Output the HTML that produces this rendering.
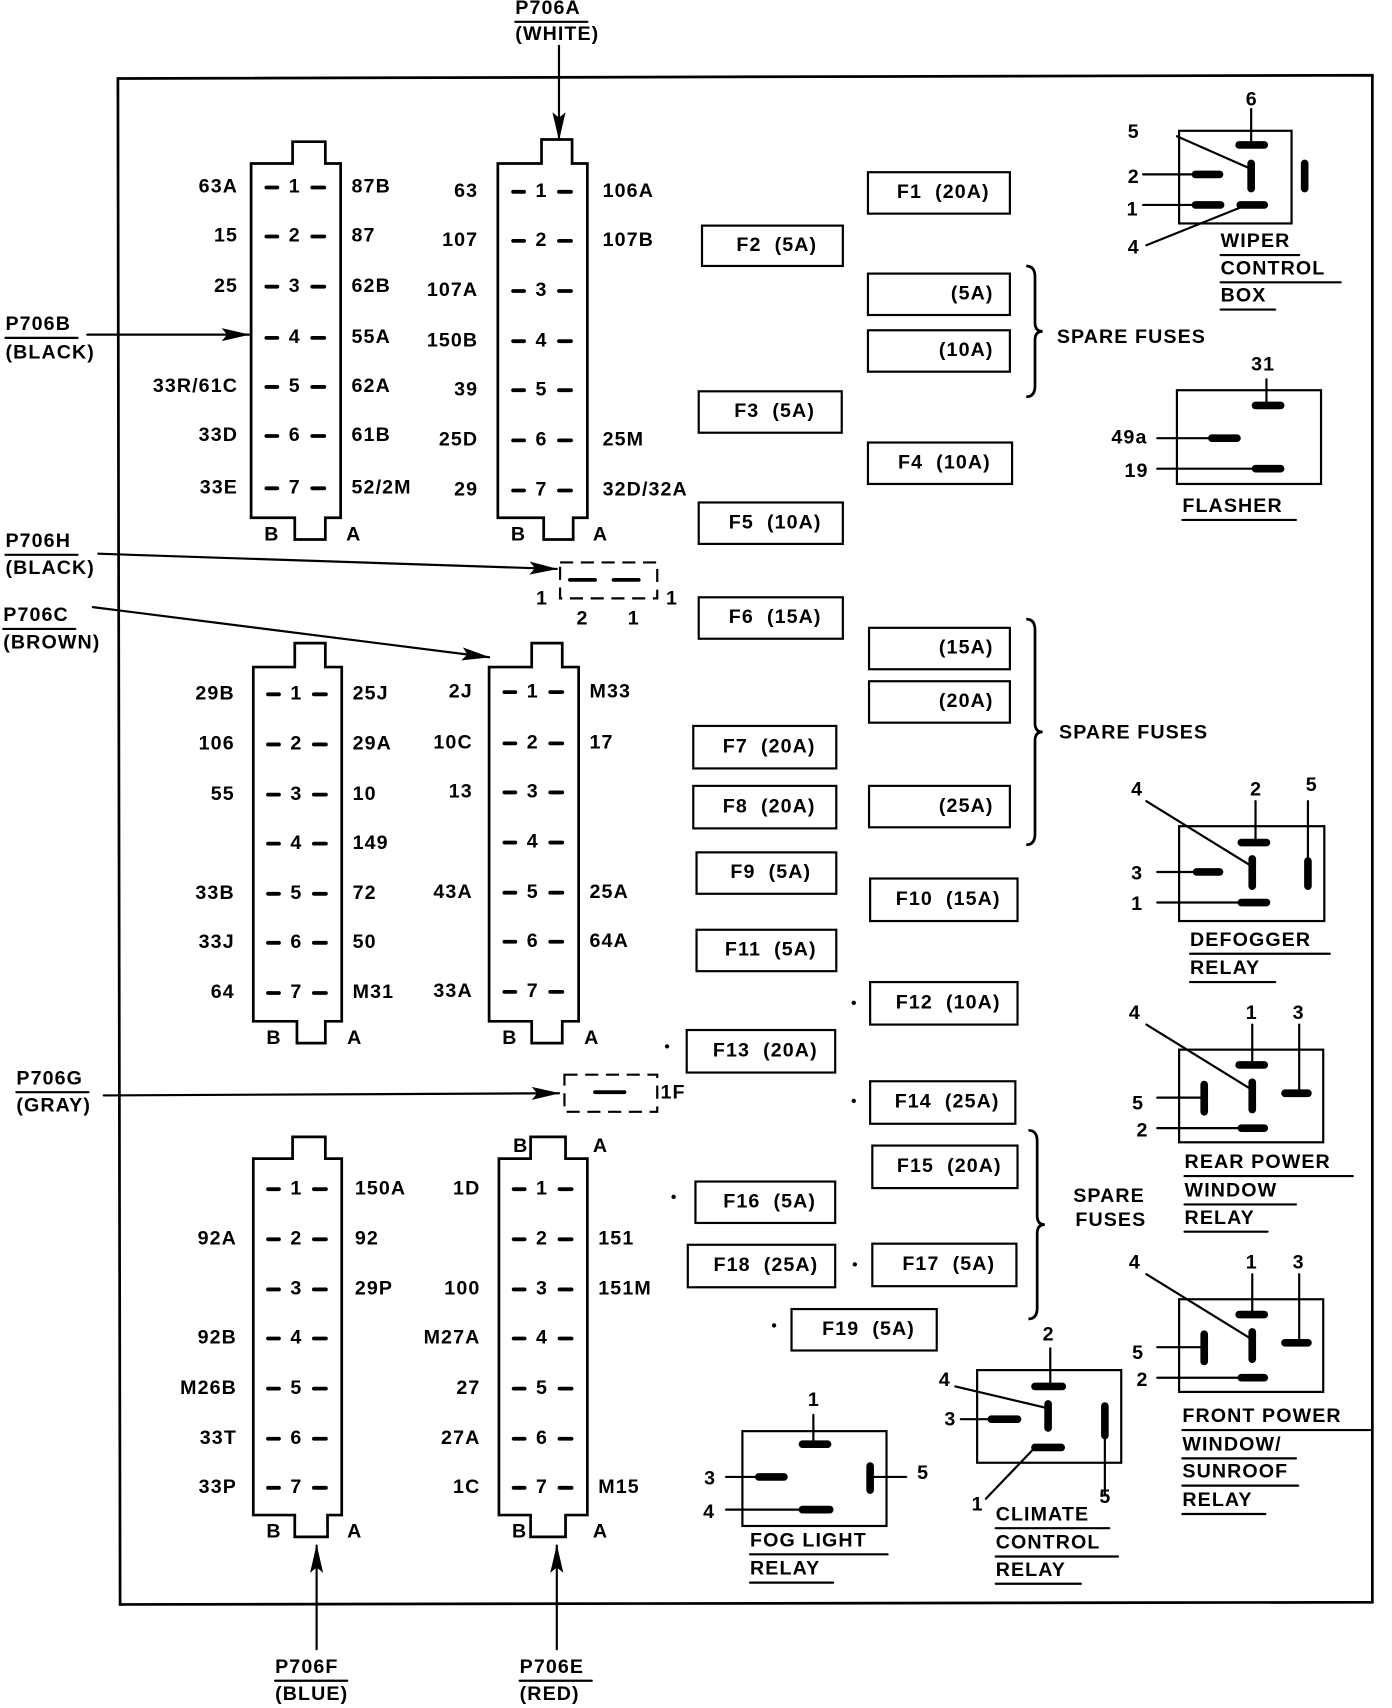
<!DOCTYPE html>
<html><head><meta charset="utf-8"><style>
html,body{margin:0;padding:0;background:#fff;}
svg{display:block;}
text{font-family:"Liberation Sans",Arial,sans-serif;font-weight:bold;font-size:18px;fill:#000;letter-spacing:1px;}
</style></head><body>
<svg id="s" width="1392" height="1708" viewBox="0 0 1275 1567" preserveAspectRatio="none" xmlns="http://www.w3.org/2000/svg">
<defs><marker id="ar" markerWidth="12" markerHeight="10" refX="11" refY="5" orient="auto" markerUnits="userSpaceOnUse" viewBox="0 0 12 10"><path d="M0,1 L12,5 L0,9 L3,5 Z" fill="#000"/></marker>
<marker id="ar2" markerWidth="26" markerHeight="16" refX="25" refY="8" orient="auto" markerUnits="userSpaceOnUse" viewBox="0 0 26 16"><path d="M0,2 L26,8 L0,14 L5,8 Z" fill="#000"/></marker></defs>
<g id="g" stroke="#000" fill="none"></g>
</svg>
<script>
var g=document.getElementById('g');var out='';
function L(x1,y1,x2,y2,w,m){out+='<line x1="'+x1+'" y1="'+y1+'" x2="'+x2+'" y2="'+y2+'" stroke-width="'+(w||2)+'"'+(m?' marker-end="url(#'+m+')"':'')+' stroke-linecap="round"/>';}
function R(x1,y1,x2,y2,w,d){out+='<rect x="'+x1+'" y="'+y1+'" width="'+(x2-x1)+'" height="'+(y2-y1)+'" stroke-width="'+(w||2)+'"'+(d?' stroke-dasharray="12,7"':'')+'/>';}
function T(x,y,s,a,u){out+='<text x="'+x+'" y="'+y+'" dominant-baseline="middle" stroke="none"'+(a?' text-anchor="'+a+'"':'')+(u?' text-decoration="underline"':'')+'>'+s+'</text>';}
function U(x,y,s,w){T(x,y,s);L(x,y+12,x+w,y+12,2);}
function P(d){out+='<path d="'+d+'" stroke-width="2.5"/>';}
function conn(x1,x2,top,bot,tx1,tx2,ttop,bx1,bx2,bbot,rows,left,right,lx,rx,ba){
 P('M'+x1+','+top+' H'+tx1+' V'+ttop+' H'+tx2+' V'+top+' H'+x2+' V'+bot+' H'+bx2+' V'+bbot+' H'+bx1+' V'+bot+' H'+x1+' Z');
 var cx=(x1+x2)/2;
 for(var i=0;i<7;i++){var y=rows[i];L(cx-27,y,cx-17,y,3.5);L(cx+15,y,cx+26,y,3.5);T(cx-1,y,''+(i+1),'middle');
  if(left[i])T(lx,y,left[i],'end');if(right[i])T(rx,y,right[i]);}
 T(x1+12,bbot-4,'B');T(x2+5,bbot-4,'A');
}
P('M108,72 L1257,69 L1257,1470 L110,1472 Z');
conn(230,312,150,475,268,298,130,270,298,495,[172,217,263,310,355,400,448],['63A','15','25','','33R/61C','33D','33E'],['87B','87','62B','55A','62A','61B','52/2M'],218,322);
conn(456,538,150,475,496,524,128,498,525,495,[176,221,267,313,358,404,450],['63','107','107A','150B','39','25D','29'],['106A','107B','','','','25M','32D/32A'],438,552);
conn(232,313,612,937,270,298,590,272,298,957,[637,683,729,774,820,865,911],['29B','106','55','','33B','33J','64'],['25J','29A','10','149','72','50','M31'],215,323);
conn(448,530,612,937,487,515,590,487,515,957,[635,682,727,773,819,864,910],['2J','10C','13','','43A','','33A'],['M33','17','','','25A','64A',''],433,540);
conn(232,313,1063,1390,268,298,1043,270,300,1410,[1091,1137,1183,1228,1274,1320,1365],['','92A','','92B','M26B','33T','33P'],['150A','92','29P','','','',''],217,325);
conn(457,538,1063,1390,486,518,1043,486,518,1410,[1091,1137,1183,1228,1274,1320,1365],['1D','','100','M27A','27','27A','1C'],['','151','151M','','','','M15'],440,548);
T(470,1052,'B');T(543,1052,'A');
U(472,8,'P706A',66);T(472,32,'(WHITE)');L(512,42,512,128,2,'ar2');
U(5,298,'P706B',66);T(5,324,'(BLACK)');L(80,307,228,307,2,'ar2');
U(5,497,'P706H',66);T(5,522,'(BLACK)');L(90,508,510,522,2,'ar2');
U(3,565,'P706C',66);T(3,590,'(BROWN)');L(85,557,448,603,2,'ar2');
U(15,990,'P706G',66);T(15,1015,'(GRAY)');L(95,1005,512,1003,2,'ar2');
L(290,1513,290,1418,2,'ar2');U(252,1530,'P706F',66);T(252,1555,'(BLUE)');
L(510,1513,510,1418,2,'ar2');U(476,1530,'P706E',66);T(476,1555,'(RED)');
R(513,516,602,549,2,1);L(522,532,545,532,3.5);L(562,532,585,532,3.5);T(491,550,'1');T(610,550,'1');T(528,568,'2');T(575,568,'1');
R(517,986,602,1020,2,1);L(545,1002,572,1002,3.5);T(605,1003,'1F');
var F=[['F1 (20A)',795,925,158,196],['F2 (5A)',643,772,207,244],['(5A)',795,925,251,289,1],['(10A)',795,925,303,341,1],['F3 (5A)',640,771,359,397],['F4 (10A)',795,927,406,444],['F5 (10A)',640,772,461,499],['F6 (15A)',640,772,548,586],['(15A)',796,925,576,614,1],['(20A)',796,925,625,663,1],['F7 (20A)',635,766,666,705],['F8 (20A)',635,766,721,760],['(25A)',796,925,721,759,1],['F9 (5A)',638,766,782,820],['F10 (15A)',797,932,806,845],['F11 (5A)',638,766,853,891],['F12 (10A)',797,932,901,940],['F13 (20A)',629,765,945,984],['F14 (25A)',797,930,992,1031],['F15 (20A)',799,932,1051,1090],['F16 (5A)',637,765,1084,1122],['F18 (25A)',630,765,1142,1181],['F17 (5A)',799,931,1141,1180],['F19 (5A)',725,858,1201,1239]];
F.forEach(function(f){R(f[1],f[3],f[2],f[4],2);var y=(f[3]+f[4])/2;if(f[5])T(f[2]-15,y,f[0],'end');else T((f[1]+f[2])/2+4,y,f[0].replace(' ','\u00a0\u00a0'),'middle');});
[[782,920],[611,960],[782,1010],[617,1098],[783,1160],[709,1216]].forEach(function(d){out+='<circle cx="'+d[0]+'" cy="'+d[1]+'" r="2" fill="#000" stroke="none"/>';});
function brace(x,y1,y2){var m=(y1+y2)/2;P('M'+x+','+y1+' Q'+(x+8)+','+y1+' '+(x+8)+','+(y1+10)+' V'+(m-8)+' Q'+(x+8)+','+m+' '+(x+15)+','+m+' Q'+(x+8)+','+m+' '+(x+8)+','+(m+8)+' V'+(y2-10)+' Q'+(x+8)+','+y2+' '+x+','+y2);}
brace(940,244,364);T(968,310,'SPARE FUSES');
brace(940,568,775);T(970,673,'SPARE FUSES');
brace(942,1037,1210);T(983,1098,'SPARE');T(985,1120,'FUSES');
function TB(x1,y1,x2,y2){L(x1,y1,x2,y2,7);}
R(1080,120,1183,205,2);T(1141,92,'6');L(1146,100,1146,133);TB(1135,133,1158,133);TB(1146,150,1146,173);TB(1195,150,1195,173);
T(1033,122,'5');L(1078,125,1146,155);T(1033,163,'2');L(1047,160,1092,160);TB(1095,160,1117,160);
T(1032,193,'1');L(1047,188,1092,188);TB(1095,188,1118,188);T(1033,228,'4');L(1050,225,1137,190);TB(1136,188,1158,188);
U(1118,222,'WIPER',72);U(1118,247,'CONTROL',110);U(1118,272,'BOX',50);
R(1078,358,1210,444,2);T(1146,335,'31');L(1160,348,1160,372);TB(1150,372,1173,372);
T(1018,402,'49a');L(1060,402,1108,402);TB(1110,402,1133,402);T(1030,433,'19');L(1060,430,1150,430);TB(1150,430,1173,430);
U(1083,465,'FLASHER',104);
R(1080,758,1213,845,2);T(1036,725,'4');L(1050,735,1147,795);T(1145,725,'2');L(1150,735,1150,773);TB(1137,773,1160,773);
T(1196,721,'5');L(1198,735,1198,790);TB(1198,790,1198,813);TB(1147,788,1147,813);
T(1036,802,'3');L(1060,800,1093,800);TB(1096,800,1117,800);T(1036,830,'1');L(1060,828,1137,828);TB(1137,828,1160,828);
U(1090,863,'DEFOGGER',128);U(1090,889,'RELAY',78);
function pw(o){R(1080,963+o,1212,1048+o,2);T(1034,930+o,'4');L(1050,940+o,1147,1000+o);T(1141,930+o,'1');L(1147,940+o,1147,977+o);TB(1135,977+o,1158,977+o);
T(1184,930+o,'3');L(1190,940+o,1190,1003+o);TB(1177,1003+o,1198,1003+o);TB(1147,993+o,1147,1018+o);
T(1037,1013+o,'5');L(1060,1007+o,1103,1007+o);TB(1103,995+o,1103,1020+o);T(1041,1038+o,'2');L(1060,1035+o,1137,1035+o);TB(1137,1035+o,1158,1035+o);}
pw(0);pw(229);
U(1085,1067,'REAR POWER',154);U(1085,1093,'WINDOW',102);U(1085,1118,'RELAY',76);
U(1083,1300,'FRONT POWER',172);U(1083,1326,'WINDOW/',104);U(1083,1351,'SUNROOF',106);U(1083,1377,'RELAY',76);
R(895,1257,1027,1342,2);T(955,1225,'2');L(962,1237,962,1272);TB(948,1272,973,1272);T(860,1267,'4');L(875,1272,960,1292);TB(960,1288,960,1310);
T(865,1303,'3');L(880,1302,905,1302);TB(908,1302,932,1302);TB(1012,1290,1012,1317);L(1012,1317,1012,1372);T(1007,1374,'5');
T(890,1381,'1');L(903,1375,948,1328);TB(948,1328,972,1328);
U(912,1390,'CLIMATE',104);U(912,1416,'CONTROL',112);U(912,1441,'RELAY',78);
R(680,1313,812,1400,2);T(740,1285,'1');L(745,1298,745,1325);TB(735,1325,758,1325);T(645,1357,'3');L(665,1355,693,1355);TB(695,1355,718,1355);
T(644,1388,'4');L(665,1385,735,1385);TB(735,1385,760,1385);T(840,1352,'5');L(797,1355,830,1355);TB(797,1345,797,1367);
U(687,1414,'FOG LIGHT',126);U(687,1440,'RELAY',76);
g.innerHTML=out;
</script>
</body></html>
